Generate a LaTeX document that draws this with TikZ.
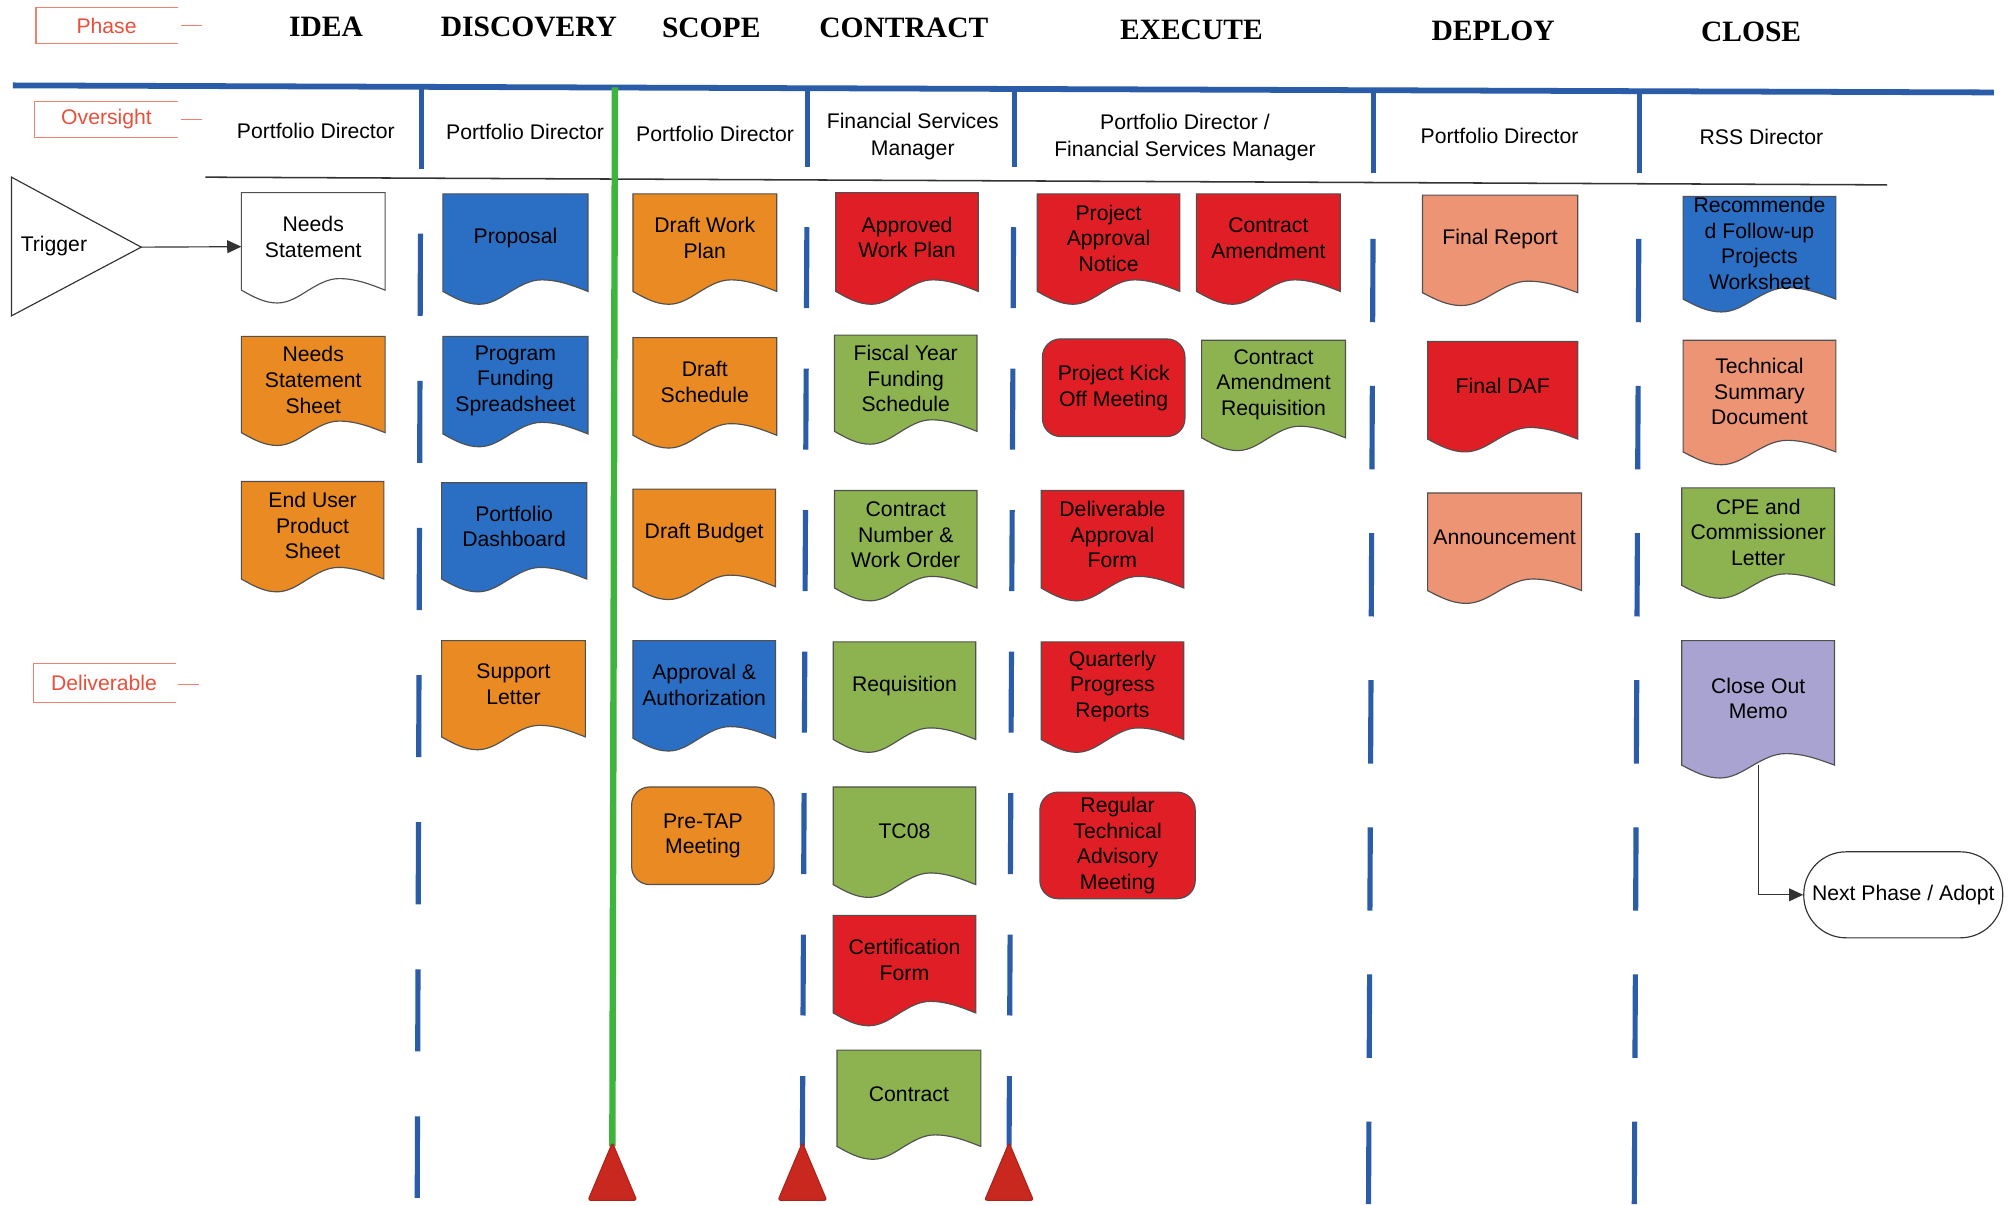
\documentclass[tikz,border=0pt]{standalone}
\usepackage{fontspec}
\setmainfont{Liberation Sans}
\newfontfamily\titlefont{Liberation Serif}
\usetikzlibrary{arrows.meta}
\definecolor{docBlue}{HTML}{2A6FC4}
\definecolor{docOrange}{HTML}{E98B22}
\definecolor{docRed}{HTML}{E01E25}
\definecolor{docGreen}{HTML}{8DB250}
\definecolor{docSalmon}{HTML}{EC9473}
\definecolor{docLav}{HTML}{A9A3D1}
\definecolor{divBlue}{HTML}{2A5CA8}
\definecolor{lineGreen}{HTML}{3DB53D}
\definecolor{triRed}{HTML}{C8281E}
\definecolor{lblRed}{HTML}{E8503C}
\definecolor{lblLine}{HTML}{F08070}
\definecolor{edgeGray}{HTML}{505050}
\newcommand\docshape[7]{%
  \begin{scope}[shift={(#2,#3)}]
    \filldraw[docsty, fill=#6] (0,0) -- (#4,0) -- (#4,#5-10) sin (0.68*#4,#5-19) cos (0.46*#4,#5-9.5) sin (0.25*#4,#5) cos (0,#5-10) -- cycle;
    \node[txt] (#1) at (0.5*#4,{(#5-19)/2+1}) {#7};
    \coordinate (#1-L) at (0,{0.49*#5});
    \coordinate (#1-B) at (0.5*#4,#5-10);
  \end{scope}}
\begin{document}
\begin{tikzpicture}[x=1pt,y=-1pt,
  docsty/.style={draw=edgeGray, line width=0.9pt},
  txt/.style={font=\fontsize{16.5}{20}\selectfont, align=center, inner sep=0pt, text=black},
  ovtxt/.style={font=\fontsize{16.5}{21}\selectfont, align=center, inner sep=0pt, text=black},
  rnd/.style={txt, draw=edgeGray, line width=0.9pt, rounded corners=14pt},
  title/.style={font=\titlefont\bfseries\fontsize{23}{26}\selectfont, inner sep=0pt},
  lbltxt/.style={font=\fontsize{16.5}{20}\selectfont, text=lblRed, inner sep=0pt},
  lblline/.style={draw=lblLine, line width=1pt},
  divider/.style={draw=divBlue, line width=4pt},
  conn/.style={draw=black!80, line width=0.9pt, -{Triangle[length=11pt,width=10pt]}},
  tri/.style={fill=triRed, draw=triRed!85!black, line width=0.8pt, rounded corners=2pt}]
\useasboundingbox (0,0) rectangle (1568,938);
\fill[white] (0,0) rectangle (1568,938);

% side labels
\draw[lblline] (139,6) -- (28,6) -- (28,34) -- (139,34);
\node[lbltxt] (lbl-phase) at (83,20) {Phase};
\draw[lblline] (141,20) -- (157,20);
\draw[lblline] (139,79) -- (27,79) -- (27,107) -- (139,107);
\node[lbltxt] (lbl-over) at (83,93) {Oversight};
\draw[lblline] (141,93) -- (157,93);
\draw[lblline] (137,517) -- (26,517) -- (26,547) -- (137,547);
\node[lbltxt] (lbl-deliv) at (81,532) {Deliverable};
\draw[lblline] (139,533) -- (155,533);

% phase titles
\node[title] (t-idea) at (254,21) {IDEA};
\node[title] (t-disc) at (412,21) {DISCOVERY};
\node[title] (t-scope) at (554,22) {SCOPE};
\node[title] (t-contract) at (704,22) {CONTRACT};
\node[title] (t-exec) at (928,23) {EXECUTE};
\node[title] (t-deploy) at (1163,24) {DEPLOY};
\node[title] (t-close) at (1364,25) {CLOSE};

% lines
\draw[divBlue, line width=4.5pt] (10,66.5) -- (1553,72);
\draw[black!80, line width=1.2pt] (160,138) -- (1470,144);

% dividers
\draw[divider] (328,68) -- (328,132);
\draw[divider, dash pattern=on 64pt off 50.6pt] (327.5,182) -- (325,933);
\draw[lineGreen, line width=5pt] (479,68) -- (477,893);
\draw[divider] (629,69) -- (629,130);
\draw[divider, dash pattern=on 63pt off 47.2pt] (628.5,177) -- (625,893);
\draw[divider] (790,69) -- (790,130);
\draw[divider, dash pattern=on 63pt off 47.2pt] (789.5,177) -- (786,893);
\draw[divider] (1070,70) -- (1070,135);
\draw[divider, dash pattern=on 65pt off 49.6pt] (1069.5,186) -- (1066,938);
\draw[divider] (1277,70) -- (1277,135);
\draw[divider, dash pattern=on 65pt off 49.6pt] (1276.5,186) -- (1273,938);

% red triangles
\filldraw[tri] (477,890) -- (496,935) -- (458,935) -- cycle;
\filldraw[tri] (625,890) -- (644,935) -- (606,935) -- cycle;
\filldraw[tri] (786,890) -- (805,935) -- (767,935) -- cycle;

% oversight row
\node[ovtxt] (ov-idea) at (246,102) {Portfolio Director};
\node[ovtxt] (ov-disc) at (409,103) {Portfolio Director};
\node[ovtxt] (ov-scope) at (557,104) {Portfolio Director};
\node[ovtxt] (ov-contract) at (711,106) {Financial Services\\Manager};
\node[ovtxt] (ov-exec) at (923,107) {Portfolio Director /\\Financial Services Manager};
\node[ovtxt] (ov-deploy) at (1168,106) {Portfolio Director};
\node[ovtxt] (ov-close) at (1372,107) {RSS Director};

% trigger
\draw[black!80, line width=0.9pt] (9,138) -- (110,192.5) -- (9,246) -- cycle;
\node[txt] (trigger) at (42,192) {Trigger};
\coordinate (trigger-tip) at (110,192.5);

% IDEA
\docshape{needs}{188}{150}{112}{86}{white}{Needs\\Statement}
\docshape{nss}{188}{262}{112}{85}{docOrange}{Needs\\Statement\\Sheet}
\docshape{eups}{188}{375}{111}{86}{docOrange}{End User\\Product\\Sheet}
% DISCOVERY
\docshape{proposal}{345}{151}{113}{86}{docBlue}{Proposal}
\docshape{pfs}{345}{262}{113}{86}{docBlue}{Program\\Funding\\Spreadsheet}
\docshape{pdash}{344}{376}{113}{85}{docBlue}{Portfolio\\Dashboard}
\docshape{support}{344}{499}{112}{85}{docOrange}{Support\\Letter}
% SCOPE
\docshape{dwp}{493}{151}{112}{86}{docOrange}{Draft Work\\Plan}
\docshape{dsched}{493}{263}{112}{86}{docOrange}{Draft\\Schedule}
\docshape{dbudget}{493}{381}{111}{86}{docOrange}{Draft Budget}
\docshape{appauth}{493}{499}{111}{86}{docBlue}{Approval \&\\Authorization}
\node[rnd, fill=docOrange, minimum width=111pt, minimum height=76pt] (pretap) at (547.5,651) {Pre-TAP\\Meeting};
% CONTRACT
\docshape{awp}{651}{150}{111}{87}{docRed}{Approved\\Work Plan}
\docshape{fyfs}{650}{261}{111}{85}{docGreen}{Fiscal Year\\Funding\\Schedule}
\docshape{cnwo}{650}{382}{111}{86}{docGreen}{Contract\\Number \&\\Work Order}
\docshape{req}{649}{500}{111}{86}{docGreen}{Requisition}
\docshape{tc08}{649}{613}{111}{86}{docGreen}{TC08}
\docshape{cert}{649}{713}{111}{86}{docRed}{Certification\\Form}
\docshape{contract}{652}{818}{112}{85}{docGreen}{Contract}
% EXECUTE
\docshape{pan}{808}{151}{111}{86}{docRed}{Project\\Approval\\Notice}
\docshape{camend}{932}{151}{112}{86}{docRed}{Contract\\Amendment}
\node[rnd, fill=docRed, minimum width=111pt, minimum height=76pt] (kick) at (867.5,302) {Project Kick\\Off Meeting};
\docshape{car}{936}{265}{112}{86}{docGreen}{Contract\\Amendment\\Requisition}
\docshape{daf}{811}{382}{111}{86}{docRed}{Deliverable\\Approval\\Form}
\docshape{qpr}{811}{500}{111}{86}{docRed}{Quarterly\\Progress\\Reports}
\node[rnd, fill=docRed, minimum width=121pt, minimum height=83pt] (rtam) at (870.5,658.5) {Regular\\Technical\\Advisory\\Meeting};
% DEPLOY
\docshape{final}{1108}{152}{121}{86}{docSalmon}{Final Report}
\docshape{fdaf}{1112}{266}{117}{86}{docRed}{Final DAF}
\docshape{announce}{1112}{384}{120}{86}{docSalmon}{Announcement}
% CLOSE
\docshape{rfpw}{1311}{153}{119}{90}{docBlue}{Recommende\\d Follow-up\\Projects\\Worksheet}
\docshape{tsd}{1311}{265}{119}{97}{docSalmon}{Technical\\Summary\\Document}
\docshape{cpe}{1310}{380}{119}{86}{docGreen}{CPE and\\Commissioner\\Letter}
\docshape{com}{1310}{499}{119}{107}{docLav}{Close Out\\Memo}

\node[txt, draw=black!80, line width=0.9pt, rounded corners=33pt, minimum width=155pt, minimum height=67pt] (next) at (1482.5,697) {Next Phase / Adopt};

% connectors
\draw[conn] (trigger-tip) -- (needs-L);
\draw[conn] (com-B) |- (next.west);
\end{tikzpicture}
\end{document}
